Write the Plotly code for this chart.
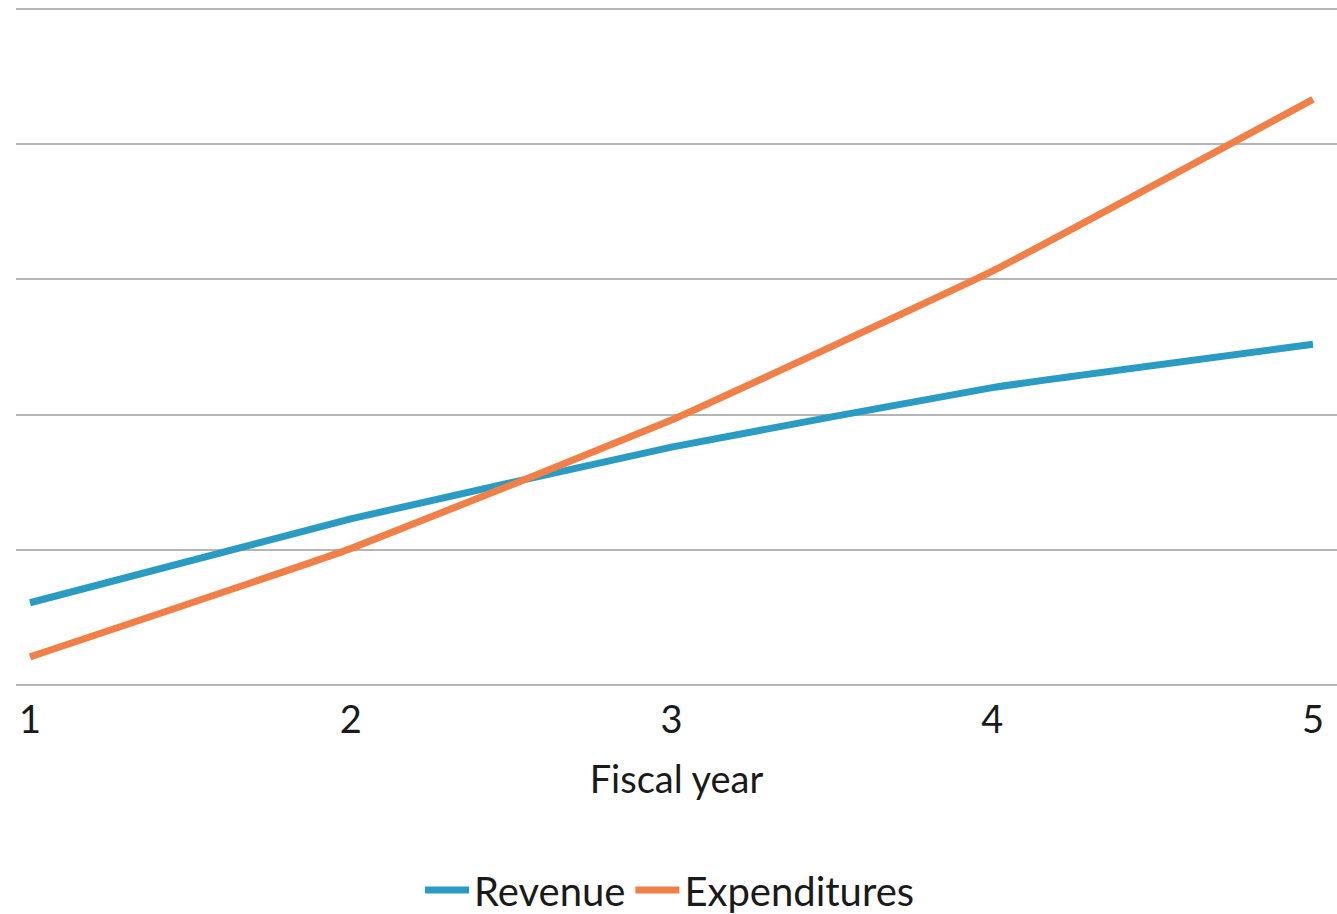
import plotly.graph_objects as go

years = [1, 2, 3, 4, 5]
revenue = [0.61, 1.23, 1.76, 2.20, 2.52]
expenditures = [0.21, 1.01, 1.96, 3.06, 4.33]

fig = go.Figure()
fig.add_trace(go.Scatter(x=years, y=revenue, name="Revenue", mode="lines",
                         line=dict(color="#2a9bc2", width=7, shape="spline", smoothing=0.3)))
fig.add_trace(go.Scatter(x=years, y=expenditures, name="Expenditures", mode="lines",
                         line=dict(color="#f07f48", width=7, shape="spline", smoothing=0.3)))

ppu = (1313 - 30) / 4.0
unit = 676 / 5.0
pad = 0.02
fig.update_layout(
    width=1337, height=914,
    margin=dict(l=16, r=0, t=9 - pad * unit, b=914 - 685 - pad * unit, autoexpand=False),
    plot_bgcolor="white", paper_bgcolor="white",
    font=dict(family="Lato", size=38, color="#1a1a1a"),
    showlegend=True,
    legend=dict(orientation="h", xref="container", x=670 / 1337, xanchor="center", yref="container",
                y=1 - 890 / 914, yanchor="middle", font=dict(size=40), tracegroupgap=0,
                itemwidth=44),
    xaxis=dict(range=[1 - 14 / ppu, 5 + 24 / ppu], tickvals=years, ticktext=[str(v) for v in years],
               showgrid=False, zeroline=False, showline=False, ticks="", ticklabelstandoff=6,
               automargin=False,
               title=dict(text="Fiscal year", standoff=26, font=dict(size=38))),
    yaxis=dict(range=[-pad, 5 + pad], tickvals=[0, 1, 2, 3, 4, 5], showgrid=True, gridcolor="#b5b5b5",
               gridwidth=2, zeroline=False, showticklabels=False, ticks="", automargin=False),
)
fig.update_traces(cliponaxis=False)
fig.write_html("out.html")
